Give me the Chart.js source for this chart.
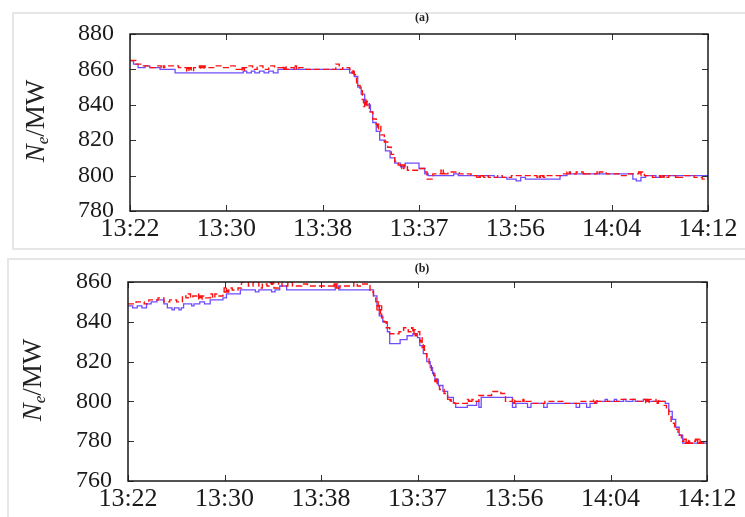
<!DOCTYPE html>
<html>
<head>
<meta charset="utf-8">
<script src="https://cdn.jsdelivr.net/npm/chart.js@4.4.1/dist/chart.umd.min.js"></script>
<style>
  html, body { margin: 0; padding: 0; background: #fff; }
  #wrap { position: relative; width: 745px; height: 517px; overflow: hidden; background: #fff; }
  .frame { position: absolute; border: 2px solid #e6e6e6; box-sizing: border-box; }
  canvas { position: absolute; left: 0; }
  .tag {
    position: absolute; transform: translate(-50%, -50%);
    font: bold 12px "Liberation Serif", "Times New Roman", serif; color: #222;
  }
  .ylab {
    position: absolute; transform: translate(-50%, -50%) rotate(-90deg);
    font: 27px "Liberation Serif", "Times New Roman", serif; color: #222; white-space: nowrap;
  }
  .ylab sub { font-size: 17px; font-style: italic; vertical-align: -4px; }
</style>
</head>
<body>
<div id="wrap">
  <div class="frame" style="left:12px;top:12px;width:740px;height:238px"></div>
  <div class="frame" style="left:7px;top:258px;width:745px;height:265px"></div>
  <canvas id="chartA" width="745" height="255" style="top:0"></canvas>
  <canvas id="chartB" width="745" height="262" style="top:255px"></canvas>
  <div class="tag" style="left:422px;top:17px">(a)</div>
  <div class="tag" style="left:422px;top:268px">(b)</div>
  <div class="ylab" style="left:36px;top:121px"><i>N</i><sub>e</sub>/MW</div>
  <div class="ylab" style="left:33px;top:380px"><i>N</i><sub>e</sub>/MW</div>
</div>
<script>
// -------------------------------
// Data (minutes after 13:22)
// -------------------------------
const timeLabels = ["13:22", "13:30", "13:38", "13:37", "13:56", "14:04", "14:12"];
const spanMinutes = 50;

// (a) red dashed
const redA_t = [0, 0.5, 1.0, 1.8, 2.3, 2.7, 2.8, 2.9, 3.0, 4.2,
  4.9, 5.0, 5.1, 5.2, 5.3, 5.5, 6.0, 6.1, 6.2, 6.3,
  6.4, 6.5, 7.4, 8.0, 8.5, 9.1, 9.6, 9.7, 9.8, 9.9,
  10.1, 10.6, 11.0, 11.5, 12.0, 12.5, 13.2, 13.3, 13.4, 13.5,
  13.7, 14.2, 14.3, 14.4, 14.6, 15.2, 17.8, 18.1, 18.4, 19.0,
  19.2, 19.3, 19.4, 19.5, 19.6, 19.9, 20.1, 20.2, 20.3, 20.4,
  20.5, 20.7, 21.0, 21.3, 21.4, 21.5, 21.7, 22.0, 22.3, 22.6,
  22.9, 23.2, 23.4, 23.5, 23.6, 23.7, 24.0, 25.0, 25.5, 25.7,
  26.2, 26.9, 27.0, 27.1, 27.2, 27.5, 28.5, 29.5, 30.0, 30.1,
  30.2, 30.3, 30.4, 30.5, 30.6, 30.7, 31.0, 31.8, 32.2, 33.0,
  35.2, 35.3, 35.4, 35.5, 35.6, 35.7, 35.8, 36.0, 36.6, 37.3,
  37.8, 37.9, 38.0, 38.1, 38.6, 39.2, 39.3, 39.4, 39.8, 40.4,
  40.5, 40.6, 41.2, 41.5, 42.3, 43.0, 44.0, 44.1, 44.2, 44.5,
  45.2, 45.8, 45.9, 46.0, 46.1, 46.2, 46.3, 46.6, 47.2, 47.3,
  47.4, 48.0, 48.8, 49.5, 50];
const redA_v = [865, 863, 862, 861, 862, 861, 862, 861, 862, 861,
  859, 861, 859, 861, 859, 861, 862, 860, 862, 860,
  862, 861, 862, 861, 862, 860, 859, 861, 859, 861,
  862, 860, 862, 860, 862, 861, 862, 860, 862, 860,
  861, 860, 862, 860, 861, 860, 863, 860, 861, 860,
  858, 860, 857, 855, 851, 848, 843, 839, 843, 839,
  842, 836, 832, 829, 826, 829, 823, 819, 816, 812,
  808, 806, 804, 806, 804, 806, 803, 804, 802, 798,
  801, 803, 801, 803, 801, 802, 801, 800, 799, 800,
  799, 800, 799, 800, 799, 800, 799, 800, 799, 800,
  799, 800, 799, 800, 799, 800, 799, 800, 800, 801,
  802, 801, 802, 801, 802, 801, 802, 801, 801, 802,
  801, 802, 801, 801, 800, 801, 802, 800, 802, 800,
  799, 800, 799, 800, 799, 800, 799, 800, 799, 800,
  799, 800, 799, 798, 799];

// (a) blue solid
const blueA_t = [0, 0.3, 0.7, 1.3, 1.7, 2.6, 3.9, 9.8, 10.1, 10.5,
  10.8, 11.2, 11.6, 12.0, 12.4, 12.8, 19.0, 19.4, 19.7, 20.0,
  20.3, 20.8, 21.0, 21.3, 21.6, 22.1, 22.5, 22.9, 23.4, 23.8,
  25.0, 25.5, 25.8, 28.0, 28.4, 31.5, 32.6, 33.4, 33.8, 34.2,
  37.2, 37.8, 43.5, 43.8, 44.2, 44.6, 45.5, 46.0, 50];
const blueA_v = [865, 863, 861, 862, 861, 860, 858, 859, 858, 859,
  858, 859, 858, 859, 858, 860, 858, 856, 850, 846,
  840, 836, 830, 825, 820, 814, 810, 807, 805, 807,
  804, 801, 800, 801, 800, 799, 798, 797, 799, 798,
  800, 801, 798, 797, 799, 800, 799, 800, 800];

// (b) red dashed
const redB_t = [0, 0.7, 1.4, 1.8, 2.6, 3.1, 3.6, 4.2, 4.7, 5.0,
  5.2, 5.4, 5.6, 6.0, 6.1, 6.2, 6.3, 6.4, 6.7, 7.1,
  7.3, 7.5, 7.8, 8.2, 8.3, 8.4, 8.5, 8.6, 8.7, 9.0,
  9.5, 9.8, 10.4, 10.8, 11.3, 11.6, 12.0, 12.3, 12.4, 12.5,
  12.6, 13.0, 13.3, 13.8, 14.2, 15.0, 15.5, 17.7, 17.8, 17.9,
  18.0, 18.1, 18.3, 19.5, 19.8, 20.2, 20.9, 21.2, 21.4, 21.5,
  21.6, 21.7, 21.8, 21.9, 22.1, 22.3, 22.6, 23.4, 23.8, 24.2,
  24.5, 24.6, 24.7, 24.8, 24.9, 25.2, 25.3, 25.4, 25.5, 25.6,
  25.8, 26.0, 26.2, 26.4, 26.5, 26.6, 26.7, 26.9, 27.3, 27.6,
  27.7, 27.8, 27.9, 28.2, 29.3, 29.4, 29.5, 29.6, 29.7, 29.8,
  30.3, 31.4, 32.2, 32.6, 33.2, 33.3, 33.4, 33.5, 34.0, 34.1,
  34.2, 34.3, 34.8, 36.0, 37.7, 39.0, 40.2, 40.3, 40.4, 40.5,
  41.0, 42.5, 44.0, 44.6, 44.7, 44.8, 44.9, 45.0, 45.2, 45.6,
  45.7, 45.8, 45.9, 46.3, 46.5, 46.7, 46.9, 47.2, 47.5, 47.8,
  48.0, 48.1, 48.2, 48.3, 48.4, 48.5, 48.8, 49.0, 49.1, 49.2,
  49.3, 49.4, 49.5, 49.7, 50];
const redB_v = [849, 850, 849, 851, 852, 850, 851, 850, 853, 852,
  854, 852, 853, 854, 851, 853, 851, 853, 852, 854,
  852, 854, 853, 855, 857, 855, 857, 855, 857, 856,
  857, 860, 858, 860, 857, 859, 858, 860, 858, 860,
  857, 861, 858, 860, 858, 859, 858, 857, 859, 857,
  859, 857, 858, 862, 858, 859, 855, 852, 850, 846,
  850, 844, 848, 842, 840, 837, 834, 835, 837, 835,
  837, 834, 836, 833, 835, 830, 832, 827, 829, 824,
  822, 819, 815, 813, 810, 812, 809, 806, 804, 801,
  800, 801, 800, 799, 801, 800, 801, 800, 801, 800,
  803, 805, 804, 800, 801, 799, 801, 800, 801, 800,
  801, 800, 799, 800, 799, 800, 801, 799, 801, 800,
  800, 801, 800, 801, 799, 801, 799, 801, 800, 801,
  799, 801, 800, 798, 796, 793, 789, 786, 783, 780,
  781, 779, 781, 779, 781, 779, 780, 781, 779, 781,
  779, 781, 779, 780, 780];

// (b) blue solid
const blueB_t = [0, 0.4, 0.8, 1.2, 1.6, 2.0, 2.5, 3.1, 3.4, 3.8,
  4.0, 4.4, 4.6, 4.8, 5.5, 5.7, 6.2, 6.6, 7.1, 8.2,
  8.5, 9.7, 11.0, 11.3, 12.4, 12.7, 13.1, 13.7, 17.5, 17.9,
  18.2, 21.2, 21.5, 21.7, 22.0, 22.4, 22.6, 23.5, 24.1, 24.6,
  25.0, 25.2, 25.5, 25.8, 26.1, 26.3, 26.5, 26.8, 27.2, 27.6,
  28.1, 28.3, 29.3, 30.1, 30.3, 30.5, 33.2, 33.5, 34.5, 34.8,
  35.9, 36.2, 38.7, 39.0, 39.6, 39.9, 40.5, 41.2, 41.4, 42.0,
  42.2, 42.8, 43.0, 43.6, 43.8, 44.5, 44.8, 46.4, 46.7, 47.0,
  47.3, 47.6, 47.9, 50];
const blueB_v = [848, 847, 848, 847, 849, 850, 851, 849, 847, 846,
  847, 846, 847, 849, 848, 849, 850, 849, 851, 852,
  854, 856, 855, 856, 855, 856, 858, 856, 856, 858,
  856, 853, 848, 843, 840, 835, 829, 831, 833, 834,
  832, 828, 824, 820, 817, 814, 811, 808, 805, 802,
  799, 797, 798, 800, 797, 802, 797, 799, 797, 799,
  797, 799, 797, 799, 797, 799, 800, 801, 800, 801,
  800, 801, 800, 801, 800, 801, 800, 799, 795, 791,
  787, 783, 779, 779];

// -------------------------------
// Helpers
// -------------------------------
const serif = '"Liberation Serif", "Times New Roman", serif';
const toPoints = (ts, vs) => ts.map((t, i) => ({ x: t, y: vs[i] }));

// gnuplot-like box with inward ticks on all four sides
const boxTicks = {
  id: "boxTicks",
  afterDraw(chart) {
    const { ctx, chartArea: a } = chart;
    const { x, y } = chart.scales;
    ctx.save();
    ctx.strokeStyle = "#333";
    ctx.lineWidth = 1;
    ctx.beginPath();
    x.ticks.forEach((t) => {
      const px = Math.round(x.getPixelForValue(t.value)) + 0.5;
      ctx.moveTo(px, a.bottom); ctx.lineTo(px, a.bottom - 6);
      ctx.moveTo(px, a.top); ctx.lineTo(px, a.top + 6);
    });
    y.ticks.forEach((t) => {
      const py = Math.round(y.getPixelForValue(t.value)) + 0.5;
      ctx.moveTo(a.left, py); ctx.lineTo(a.left + 6, py);
      ctx.moveTo(a.right, py); ctx.lineTo(a.right - 6, py);
    });
    ctx.stroke();
    ctx.strokeStyle = "#1a1a1a";
    ctx.lineWidth = 1.5;
    ctx.strokeRect(a.left, a.top, a.right - a.left, a.bottom - a.top);
    ctx.restore();
  },
};

function makePanel(canvasId, red, blue, yMin, yMax, box) {
  return new Chart(document.getElementById(canvasId).getContext("2d"), {
    type: "line",
    data: {
      datasets: [
        {
          label: "red",
          data: red,
          stepped: true,
          borderColor: "#ff1010",
          borderWidth: 1.4,
          borderDash: [6, 3],
          pointRadius: 0,
          fill: false,
        },
        {
          label: "blue",
          data: blue,
          stepped: true,
          borderColor: "#6f4dff",
          borderWidth: 1.3,
          pointRadius: 0,
          fill: false,
        },
      ],
    },
    options: {
      responsive: false,
      animation: false,
      layout: { padding: { left: 0, top: box.top, right: box.right, bottom: 0 } },
      plugins: { legend: { display: false }, tooltip: { enabled: false } },
      scales: {
        x: {
          type: "linear",
          min: 0,
          max: spanMinutes,
          grid: { display: false, drawTicks: false },
          border: { display: false },
          afterBuildTicks: (scale) => {
            scale.ticks = timeLabels.map((_, i) => ({ value: (i * spanMinutes) / (timeLabels.length - 1) }));
          },
          afterFit: (scale) => {
            scale.height = box.xHeight;
            scale.paddingLeft = 0;
            scale.paddingRight = 0;
          },
          ticks: {
            autoSkip: false,
            maxRotation: 0,
            padding: 3,
            color: "#1a1a1a",
            font: { family: serif, size: 26 },
            callback: (value, index) => timeLabels[index],
          },
        },
        y: {
          min: yMin,
          max: yMax,
          grid: { display: false, drawTicks: false },
          border: { display: false },
          afterFit: (scale) => {
            scale.width = box.yWidth;
            scale.paddingTop = 0;
            scale.paddingBottom = 0;
          },
          ticks: {
            stepSize: 20,
            padding: 16,
            color: "#1a1a1a",
            font: { family: serif, size: 24 },
          },
        },
      },
    },
    plugins: [boxTicks],
  });
}

makePanel("chartA", toPoints(redA_t, redA_v), toPoints(blueA_t, blueA_v), 780, 880,
  { top: 34, right: 37, xHeight: 44, yWidth: 130 });
makePanel("chartB", toPoints(redB_t, redB_v), toPoints(blueB_t, blueB_v), 760, 860,
  { top: 27, right: 38, xHeight: 36, yWidth: 128 });
</script>
</body>
</html>
